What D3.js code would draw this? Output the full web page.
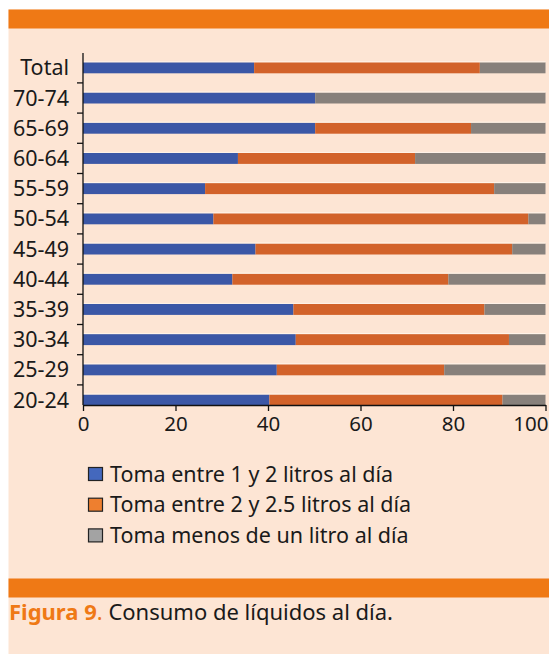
<!DOCTYPE html>
<html><head><meta charset="utf-8">
<script src="https://cdn.jsdelivr.net/npm/d3@7"></script>
<style>html,body{margin:0;padding:0;background:#fff;}svg{display:block;}</style>
</head><body>
<svg id="chart" width="549" height="654"></svg>
<script>
const categories = ["Total","70-74","65-69","60-64","55-59","50-54","45-49","40-44","35-39","30-34","25-29","20-24"];
const seriesNames = ["Toma entre 1 y 2 litros al día","Toma entre 2 y 2.5 litros al día","Toma menos de un litro al día"];
const between1and2 = [37.0,50.2,50.2,33.5,26.4,28.2,37.3,32.3,45.5,46.0,41.9,40.3];
const between2and25 = [48.8,0,33.7,38.3,62.5,68.1,55.5,46.7,41.3,46.1,36.2,50.4];
const lessThan1 = [14.2,49.8,16.1,28.2,11.1,3.7,7.2,21.0,13.2,7.9,21.9,9.3];
const xTicks = [0,20,40,60,80,100];
const barColors = ["#3b57a6","#d2622a","#87807b"];
const legendColors = ["#4468bd","#ee7f2f","#a3a3a3"];

const svg = d3.select("#chart");
const font = "'Noto Sans', sans-serif";
// backgrounds
svg.append("rect").attr("x",8.5).attr("y",9.5).attr("width",541).attr("height",645).attr("fill","#fde5d4");
svg.append("rect").attr("x",8.5).attr("y",9.5).attr("width",541).attr("height",19).attr("fill","#ef7915");
svg.append("rect").attr("x",8.5).attr("y",578.5).attr("width",541).attr("height",19).attr("fill","#ef7915");

const x = d3.scaleLinear().domain([0,100]).range([83,545.5]);
const y = d3.scaleBand().domain(categories).range([52.7,415.1]).paddingInner(0).paddingOuter(0);
const barH = 11;

const rows = categories.map((c,i)=>({cat:c, vals:[between1and2[i],between2and25[i],lessThan1[i]]}));
const stack = d3.stack().keys([0,1,2]).value((d,k)=>d.vals[k]);
const stacked = stack(rows);

const g = svg.append("g");
stacked.forEach((s,k)=>{
  g.selectAll(null).data(s).enter().append("rect")
   .attr("x",d=>x(d[0]))
   .attr("y",d=>y(d.data.cat)+y.bandwidth()/2-barH/2)
   .attr("width",d=>Math.max(0,x(d[1])-x(d[0])))
   .attr("height",barH)
   .attr("fill",barColors[k]);
});
// light top edge on bars
g.selectAll(null).data(rows).enter().append("line")
  .attr("x1",x(0)).attr("x2",x(100))
  .attr("y1",d=>y(d.cat)+y.bandwidth()/2-barH/2-0.5)
  .attr("y2",d=>y(d.cat)+y.bandwidth()/2-barH/2-0.5)
  .attr("stroke","#fff4ea").attr("stroke-width",1);

// y axis line and ticks
svg.append("line").attr("x1",83).attr("x2",83).attr("y1",53).attr("y2",405).attr("stroke","#111").attr("stroke-width",1.3);
categories.slice(0,-1).forEach(c=>{
  const yy = y(c)+y.bandwidth();
  svg.append("line").attr("x1",77).attr("x2",83).attr("y1",yy).attr("y2",yy).attr("stroke","#111").attr("stroke-width",1.3);
});
// category labels
svg.selectAll(null).data(categories).enter().append("text")
  .attr("x",69).attr("y",d=>y(d)+y.bandwidth()/2+7.5)
  .attr("text-anchor","end").attr("font-family",font).attr("font-size",21.5)
  .attr("fill","#1a1a1a").text(d=>d);

// x axis
const xAxis = d3.axisBottom(x).tickValues(xTicks).tickSize(6).tickSizeOuter(0).tickPadding(5);
const ax = svg.append("g").attr("transform","translate(0,405)").call(xAxis);
ax.select(".domain").attr("stroke","#111").attr("stroke-width",1.3);
ax.selectAll(".tick line").attr("stroke","#111").attr("stroke-width",1.3);
ax.selectAll(".tick text").attr("font-family",font).attr("font-size",20.5).attr("fill","#1a1a1a");
ax.selectAll(".tick").filter(d=>d===100).select("text").attr("text-anchor","end").attr("x",548-x(100));

// legend
const lg = svg.append("g");
seriesNames.forEach((n,i)=>{
  const yy = 467.5 + i*30.7;
  lg.append("rect").attr("x",88.5).attr("y",yy).attr("width",14).attr("height",13)
    .attr("fill",legendColors[i]).attr("stroke","#222").attr("stroke-width",1.2);
  lg.append("text").attr("x",110).attr("y",yy+14).attr("font-family",font).attr("font-size",21.5)
    .attr("fill","#1a1a1a").text(n);
});

// caption
const cap = svg.append("text").attr("x",9).attr("y",620).attr("font-family",font).attr("font-size",22);
cap.append("tspan").attr("fill","#ef7915").attr("font-weight","bold").text("Figura 9");
cap.append("tspan").attr("fill","#ef7915").text(". ");
cap.append("tspan").attr("fill","#1a1a1a").text("Consumo de líquidos al día.");
</script>
</body></html>
